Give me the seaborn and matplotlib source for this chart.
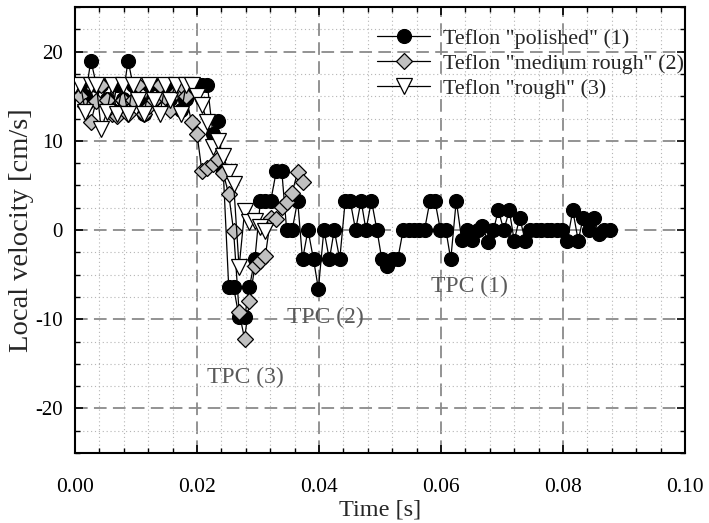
import matplotlib
matplotlib.use("Agg")
import matplotlib.pyplot as plt
from matplotlib.ticker import MultipleLocator, FormatStrFormatter
from matplotlib.lines import Line2D
import seaborn as sns
import pandas as pd

# Sample times of the high-speed recording [s]
time_s = [
    0.0000, 0.0009, 0.0017, 0.0026, 0.0035, 0.0043, 0.0052, 0.0061, 0.0069, 0.0078,
    0.0087, 0.0095, 0.0104, 0.0113, 0.0122, 0.0130, 0.0139, 0.0148, 0.0156, 0.0165,
    0.0174, 0.0182, 0.0191, 0.0200, 0.0208, 0.0217, 0.0226, 0.0234, 0.0243, 0.0252,
    0.0260, 0.0269, 0.0278, 0.0286, 0.0295, 0.0304, 0.0312, 0.0321, 0.0330, 0.0339,
    0.0347, 0.0356, 0.0365, 0.0373, 0.0382, 0.0391, 0.0399, 0.0408, 0.0417, 0.0425,
    0.0434, 0.0443, 0.0451, 0.0460, 0.0469, 0.0477, 0.0486, 0.0495, 0.0503, 0.0512,
    0.0521, 0.0529, 0.0538, 0.0547, 0.0556, 0.0564, 0.0573, 0.0582, 0.0590, 0.0599,
    0.0608, 0.0616, 0.0625, 0.0634, 0.0642, 0.0651, 0.0660, 0.0668, 0.0677, 0.0686,
    0.0694, 0.0703, 0.0712, 0.0720, 0.0729, 0.0738, 0.0746, 0.0755, 0.0764, 0.0773,
    0.0781, 0.0790, 0.0799, 0.0807, 0.0816, 0.0825, 0.0833, 0.0842, 0.0851, 0.0859,
    0.0868, 0.0877,
]

# Local velocity [cm/s], Teflon "polished"
v_polished = [
    16.3, 16.3, 15.0, 19.0, 16.3, 16.3, 14.7, 13.4, 16.3, 14.7,
    19.0, 16.3, 14.7, 13.0, 16.3, 14.7, 16.3, 16.3, 14.7, 16.3,
    13.4, 14.7, 16.3, 16.3, 16.3, 16.3, 10.8, 12.2, 6.6, -6.4,
    -6.4, -9.8, -9.8, -6.4, -3.2, 3.3, 3.3, 3.3, 6.6, 6.6,
    0.0, 0.0, 3.3, -3.3, 0.0, -3.3, -6.6, 0.0, -3.3, 0.0,
    -3.3, 3.3, 3.3, 0.0, 3.3, 0.0, 3.3, 0.0, -3.3, -4.0,
    -3.3, -3.3, 0.0, 0.0, 0.0, 0.0, 0.0, 3.3, 3.3, 0.0,
    0.0, -3.3, 3.3, -1.1, 0.0, -1.1, 0.0, 0.4, -1.3, 0.0,
    2.2, 0.0, 2.2, -1.2, 1.4, -1.2, 0.0, 0.0, 0.0, 0.0,
    0.0, 0.0, 0.0, -1.2, 2.2, -1.2, 1.4, 0.0, 1.4, -0.5,
    0.0, 0.0,
]

# Local velocity [cm/s], Teflon "medium rough"
v_medium = [
    16.2, 15.0, 13.9, 12.1, 14.5, 16.3, 14.6, 13.0, 12.8, 14.6,
    13.0, 14.6, 16.3, 13.0, 13.9, 14.6, 16.3, 14.9, 13.4, 15.5,
    16.3, 15.0, 12.1, 10.8, 6.6, 6.9, 7.4, 8.0, 6.4, 4.0,
    -0.1, -9.2, -12.2, -8.0, -4.0, -3.5, -2.9, 1.4, 1.2, 2.6,
    3.1, 4.2, 6.5, 5.4,
]

# Local velocity [cm/s], Teflon "rough"
v_rough = [
    16.3, 16.3, 13.2, 16.3, 16.3, 11.3, 13.2, 16.3, 13.0, 16.3,
    13.0, 16.3, 14.6, 13.0, 16.3, 14.6, 13.0, 16.3, 14.6, 16.3,
    13.0, 16.3, 16.3, 15.0, 14.0, 12.1, 9.3, 10.0, 8.3, 6.5,
    5.2, -4.2, 2.1, 0.9, 1.0, 0.3, -0.1,
]

labels = ['Teflon "polished" (1)', 'Teflon "medium rough" (2)', 'Teflon "rough" (3)']

sns.set_theme(style="ticks")
plt.rcParams["font.family"] = ["Liberation Serif", "DejaVu Serif"]
plt.rcParams["mathtext.fontset"] = "stix"

fig = plt.figure(figsize=(7.09, 5.23), dpi=100)
ax = fig.add_axes([75 / 709, 1 - 453 / 523, 610 / 709, 446 / 523])

styles = [
    dict(marker="o", markerfacecolor="black", markersize=10),
    dict(marker="D", markerfacecolor="#c0c0c0", markersize=8.5),
    dict(marker="v", markerfacecolor="white", markersize=11),
]
series = [v_polished, v_medium, v_rough]

for z, (vals, st, lab) in enumerate(zip(series, styles, labels)):
    df = pd.DataFrame({"t": time_s[:len(vals)], "v": vals})
    sns.lineplot(data=df, x="t", y="v", ax=ax, sort=False, estimator=None,
                 color="black", linewidth=0.9, markeredgecolor="black",
                 markeredgewidth=0.9, zorder=3 + z, legend=False, **st)

ax.set_xlim(0.0, 0.10)
ax.set_ylim(-25, 25)
ax.xaxis.set_major_locator(MultipleLocator(0.02))
ax.xaxis.set_minor_locator(MultipleLocator(0.004))
ax.yaxis.set_major_locator(MultipleLocator(10))
ax.yaxis.set_minor_locator(MultipleLocator(2.5))
ax.xaxis.set_major_formatter(FormatStrFormatter("%.2f"))
ax.yaxis.set_major_formatter(FormatStrFormatter("%d"))

ax.set_axisbelow(True)
ax.grid(which="major", color="#8a8a8a", linestyle=(0, (7, 3.5)), linewidth=1.3)
ax.grid(which="minor", color="#b5b5b5", linestyle=(0, (1, 2.5)), linewidth=0.8)

for sp in ax.spines.values():
    sp.set_linewidth(1.5)
    sp.set_color("black")
ax.tick_params(which="both", direction="in", top=True, right=True, colors="black")
ax.tick_params(which="major", length=6, width=1.2)
ax.tick_params(axis="x", which="major", pad=18, labelsize=15.5)
ax.tick_params(axis="y", which="major", pad=9, labelsize=15)
ax.tick_params(which="minor", length=3.5, width=1.0)

ax.set_xlabel("Time [s]", fontsize=17.5, labelpad=2)
ax.set_ylabel("Local velocity [cm/s]", fontsize=20.5)
ax.yaxis.set_label_coords(-0.067, 0.5)

tpc_color = "#5a5a5a"
ax.text(0.0646, -6.3, "TPC (1)", fontsize=17, color=tpc_color, ha="center", va="center", zorder=10)
ax.text(0.0410, -9.8, "TPC (2)", fontsize=17, color=tpc_color, ha="center", va="center", zorder=10)
ax.text(0.0280, -16.5, "TPC (3)", fontsize=17, color=tpc_color, ha="center", va="center", zorder=10)

handles = [Line2D([], [], color="black", linewidth=0.9, markeredgecolor="black",
                  markeredgewidth=0.9, **st) for st in styles]
ax.legend(handles, labels, loc="upper left", bbox_to_anchor=(0.481, 0.971),
          frameon=False, fontsize=15.8, handlelength=2.4, handletextpad=0.6,
          labelspacing=0.2, borderaxespad=0.0)

fig.savefig("out.png", dpi=100)
